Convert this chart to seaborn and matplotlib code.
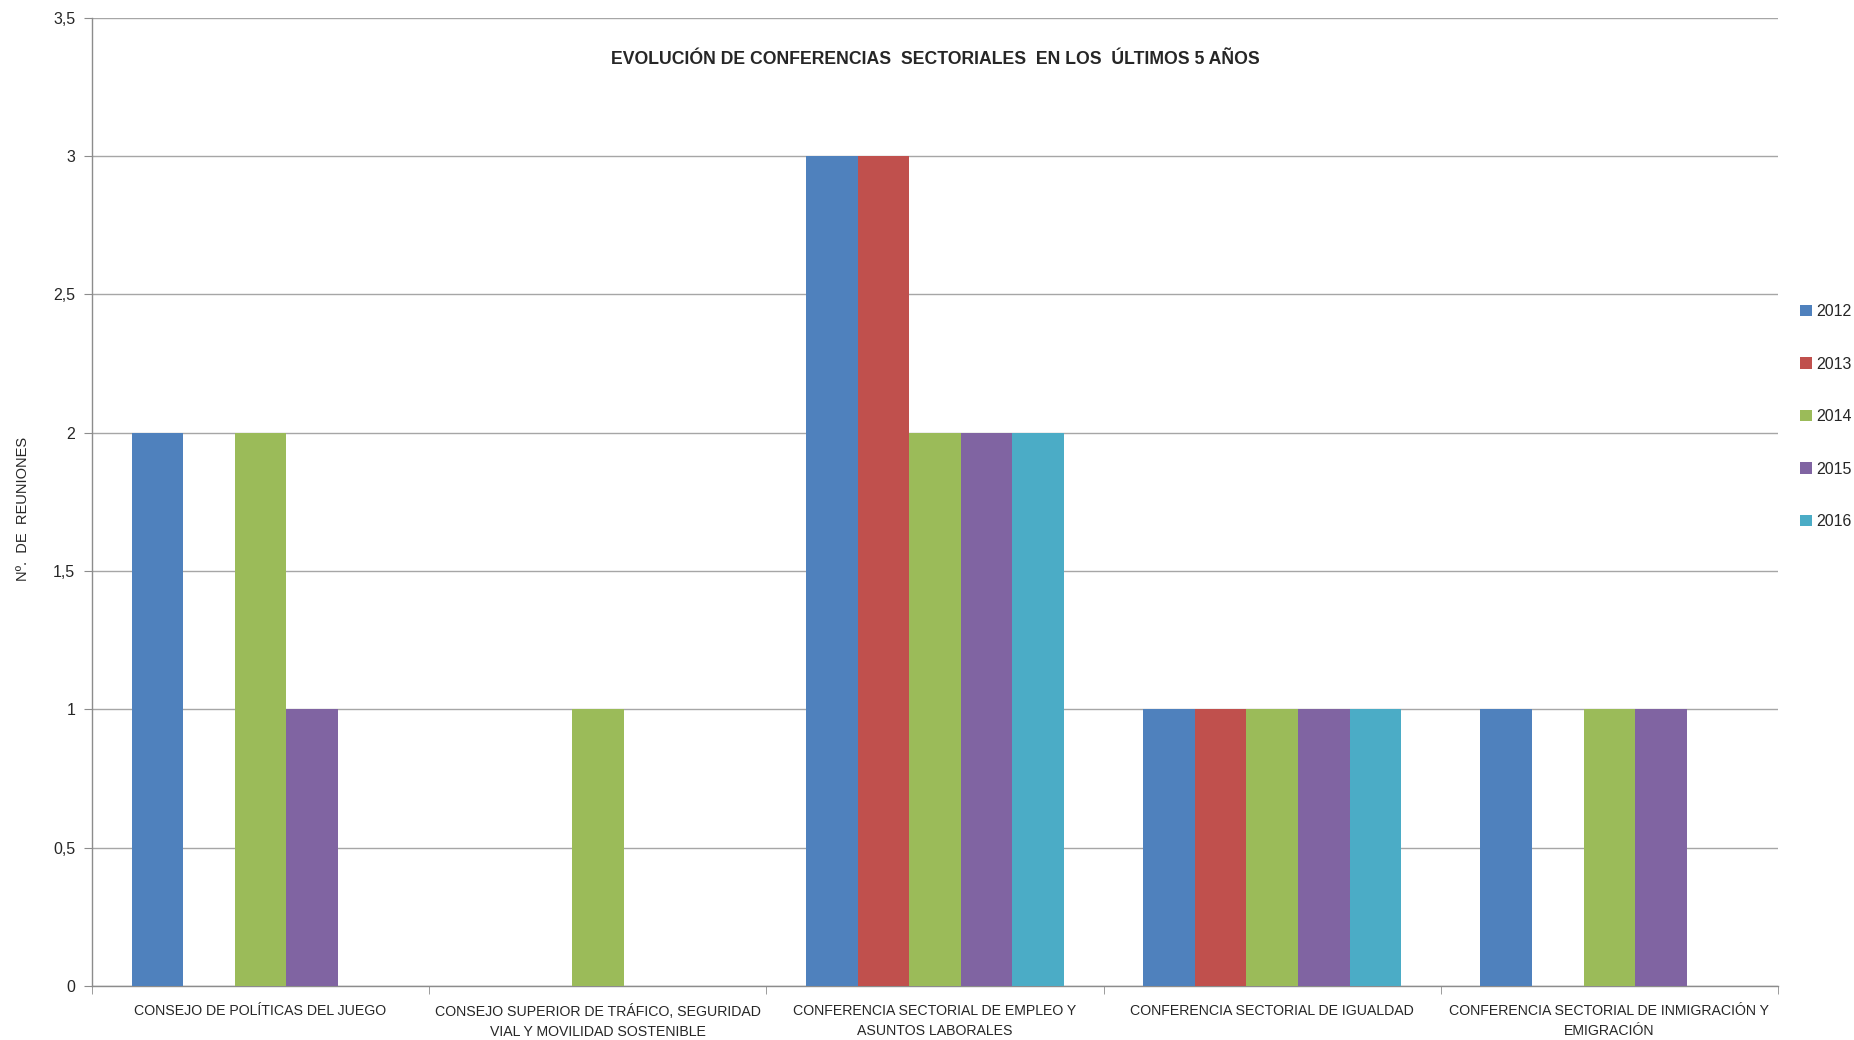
import pandas as pd
import matplotlib
matplotlib.use('Agg')
import matplotlib.pyplot as plt
import seaborn as sns
from matplotlib.ticker import FuncFormatter

# Data
categories = [
    'CONSEJO DE POLÍTICAS DEL JUEGO',
    'CONSEJO SUPERIOR DE TRÁFICO, SEGURIDAD\nVIAL Y MOVILIDAD SOSTENIBLE',
    'CONFERENCIA SECTORIAL DE EMPLEO Y\nASUNTOS LABORALES',
    'CONFERENCIA SECTORIAL DE IGUALDAD',
    'CONFERENCIA SECTORIAL DE INMIGRACIÓN Y\nEMIGRACIÓN',
]
years = ['2012', '2013', '2014', '2015', '2016']
v2012 = [2, 0, 3, 1, 1]
v2013 = [0, 0, 3, 1, 0]
v2014 = [2, 1, 2, 1, 1]
v2015 = [1, 0, 2, 1, 1]
v2016 = [0, 0, 2, 1, 0]
colors = ['#4F81BD', '#C0504D', '#9BBB59', '#8064A2', '#4BACC6']

# Long-form table for seaborn
rows = []
for year, vals in zip(years, [v2012, v2013, v2014, v2015, v2016]):
    for cat, v in zip(categories, vals):
        rows.append({'Categoria': cat, 'Año': year, 'Reuniones': v})
df = pd.DataFrame(rows)

sns.set_style('white')
plt.rcParams['font.family'] = ['Liberation Sans', 'DejaVu Sans']

fig = plt.figure(figsize=(18.54, 10.4), dpi=100)
ax = fig.add_axes([0.0496, 0.052, 0.9094, 0.931])

sns.barplot(data=df, x='Categoria', y='Reuniones', hue='Año', order=categories,
            hue_order=years, palette=colors, width=0.765, gap=0, saturation=1,
            edgecolor='none', linewidth=0, ax=ax, zorder=3)

ax.set_ylim(0, 3.5)
ax.set_xlim(-0.5, len(categories) - 0.5)
ax.set_yticks([0, 0.5, 1, 1.5, 2, 2.5, 3, 3.5])
ax.yaxis.set_major_formatter(FuncFormatter(lambda v, p: f'{v:g}'.replace('.', ',')))
ax.grid(axis='y', color='#A6A6A6', linewidth=1, zorder=0)
ax.grid(axis='x', visible=False)

for s in ['top', 'right']:
    ax.spines[s].set_visible(False)
for s in ['left', 'bottom']:
    ax.spines[s].set_color('#8C8C8C')
    ax.spines[s].set_linewidth(1)

ax.tick_params(axis='y', length=6, color='#8C8C8C', labelsize=11.5, pad=6, left=True)
ax.set_xticks(range(len(categories)))
ax.set_xticklabels(categories, fontsize=10.2, linespacing=1.55, va='top')
ax.tick_params(axis='x', length=0, pad=13)
ax.set_xticks([i - 0.5 for i in range(len(categories) + 1)], minor=True)
ax.tick_params(axis='x', which='minor', length=6, color='#8C8C8C', bottom=True)

ax.set_xlabel('')
ax.set_ylabel('Nº.  DE  REUNIONES', fontsize=10.5)
ax.yaxis.set_label_coords(-0.037, 0.493)

ax.text(0.5, 0.957, 'EVOLUCIÓN DE CONFERENCIAS  SECTORIALES  EN LOS  ÚLTIMOS 5 AÑOS',
        transform=ax.transAxes, ha='center', va='center', fontsize=12.7, fontweight='bold')

leg = ax.legend(loc='center left', bbox_to_anchor=(1.0, 0.588), frameon=False,
                fontsize=11.5, handlelength=0.7, handleheight=0.7, handletextpad=0.3,
                labelspacing=2.35, borderaxespad=1.0)

fig.savefig('out.png', dpi=100)
